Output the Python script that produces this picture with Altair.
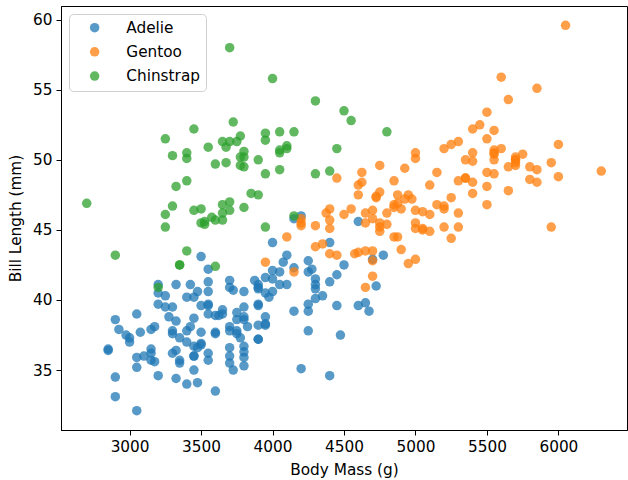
import altair as alt
import pandas as pd

species_order = ["Adelie", "Gentoo", "Chinstrap"]
species_colors = ["#1f77b4", "#ff7f0e", "#2ca02c"]
x_ticks = [3000, 3500, 4000, 4500, 5000, 5500, 6000]
y_ticks = [35, 40, 45, 50, 55, 60]

adelie_bill = [39.1, 39.5, 40.3, 36.7, 39.3, 38.9, 39.2, 34.1, 42.0, 37.8, 37.8, 41.1, 38.6, 34.6, 36.6, 38.7, 42.5, 34.4, 46.0,
               37.8, 37.7, 35.9, 38.2, 38.8, 35.3, 40.6, 40.5, 37.9, 40.5,
               39.5, 37.2, 39.5, 40.9, 36.4, 39.2, 38.8, 42.2, 37.6, 39.8, 36.5, 40.8, 36.0, 44.1, 37.0, 39.6, 41.1, 37.5, 36.0, 42.3,
               39.6, 40.1, 35.0, 42.0, 34.5, 41.4, 39.0, 40.6, 36.5, 37.6, 35.7, 41.3, 37.6, 41.1, 36.4, 41.6, 35.5, 41.1,
               35.9, 41.8, 33.5, 39.7, 39.6, 45.8, 35.5, 42.8, 40.9, 37.2, 36.2, 42.1, 34.6, 42.9, 36.7, 35.1,
               37.3, 41.3, 36.3, 36.9, 38.3, 38.9, 35.7, 41.1, 34.0, 39.6, 36.2, 40.8, 38.1, 40.3, 33.1, 43.2,
               35.0, 41.0, 37.7, 37.8, 37.9, 39.7, 38.6, 38.2, 38.1, 43.2, 38.1, 45.6, 39.7, 42.2, 39.6, 42.7,
               38.6, 37.3, 35.7, 41.1, 36.2, 37.7, 40.2, 41.4, 35.2, 40.6, 38.8, 41.5, 39.0, 44.1, 38.5, 43.1,
               36.8, 37.5, 38.1, 41.1, 35.6, 40.2, 37.0, 39.7, 40.2, 40.6, 32.1, 40.7, 37.3, 39.0, 39.2, 36.6, 36.0, 37.8, 36.0, 41.5]
adelie_mass = [3750, 3800, 3250, 3450, 3650, 3625, 4675, 3475, 4250, 3300, 3700, 3200, 3800, 4400, 3700, 3450, 4500, 3325, 4200,
               3400, 3600, 3800, 3950, 3800, 3800, 3550, 3200, 3150, 3950,
               3250, 3900, 3300, 3900, 3325, 4150, 3950, 3550, 3300, 4650, 3150, 3900, 3100, 4400, 3000, 4600, 3425, 2975, 3450, 4150,
               3500, 4300, 3450, 4050, 2900, 3700, 3550, 3800, 2850, 3750, 3150, 4400, 3600, 4050, 2850, 3950, 3350, 4100,
               3050, 4450, 3600, 3900, 3550, 4150, 3700, 4250, 3700, 3900, 3550, 4000, 3200, 4700, 3800, 4200,
               3350, 3550, 3800, 3500, 3950, 3600, 3550, 4300, 3400, 4450, 3300, 4300, 3700, 4350, 2900, 4100,
               3725, 4725, 3075, 4250, 2925, 3550, 3750, 3900, 3175, 4775, 3825, 4600, 3200, 4275, 3900, 4075,
               2900, 3775, 3350, 3325, 3150, 3500, 3450, 3875, 3050, 4000, 3275, 4300, 3050, 4000, 3325, 3500,
               3500, 4475, 3425, 3900, 3175, 3975, 3400, 4250, 3400, 3475, 3050, 3725, 3000, 3650, 4250, 3475, 3450, 3750, 3700, 4000]

gentoo_bill = [46.1, 50.0, 48.7, 50.0, 47.6, 46.5, 45.4, 46.7, 43.3, 46.8,
               40.9, 49.0, 45.5, 48.4, 45.8, 49.3, 42.0, 49.2, 46.2, 48.7,
               50.2, 45.1, 46.5, 46.3, 42.9, 46.1, 44.5, 47.8, 48.2, 50.0,
               47.3, 42.8, 45.1, 59.6, 49.1, 48.4, 42.6, 44.4, 44.0, 48.7,
               42.7, 49.6, 45.3, 49.6, 50.5, 43.6, 45.5, 50.5, 44.9, 45.2,
               46.6, 48.5, 45.1, 50.1, 46.5, 45.0, 43.8, 45.5, 43.2, 50.4,
               45.3, 46.2, 45.7, 54.3, 45.8, 49.8, 46.2, 49.5, 43.5, 50.7,
               47.7, 46.4, 48.2, 46.5, 46.4, 48.6, 47.5, 51.1, 45.2, 45.2,
               49.1, 52.5, 47.4, 50.0, 44.9, 50.8, 43.4, 51.3, 47.5, 52.1,
               47.5, 52.2, 45.5, 49.5, 44.5, 50.8, 49.4, 46.9, 48.4, 51.1,
               48.5, 55.9, 47.2, 49.1, 47.3, 46.8, 41.7, 53.4, 43.3, 48.1,
               50.5, 49.8, 43.5, 51.5, 46.2, 55.1, 44.5, 48.8, 47.2, 46.8,
               50.4, 45.2, 49.9]
gentoo_mass = [4500, 5700, 4450, 5700, 5400, 4550, 4800, 5200, 4400, 5150,
               4650, 5550, 4650, 5850, 4200, 5850, 4150, 6300, 4800, 5350,
               5700, 5000, 4400, 5050, 5000, 5100, 4100, 5650, 4600, 5550,
               5250, 4700, 5050, 6050, 5150, 5400, 4950, 5250, 4350, 5350,
               3950, 5700, 4300, 4750, 5550, 4900, 4200, 5400, 5100, 5300,
               4850, 5300, 4400, 5000, 4900, 5050, 4300, 5000, 4450, 5550,
               4200, 5300, 4400, 5650, 4700, 5700, 4650, 5800, 4700, 5550,
               4750, 5000, 5100, 5200, 4700, 5800, 4600, 6000, 4750, 5950,
               4625, 5450, 4725, 5350, 4750, 5600, 4600, 5300, 4875, 5550,
               4950, 5400, 4750, 5650, 4850, 5200, 4925, 4875, 4625, 5250,
               4850, 5600, 4975, 5500, 4725, 5500, 4700, 5500, 4575, 5500,
               5000, 5950, 4650, 5500, 4375, 5850, 4875, 6000, 4925, 4850,
               5750, 5200, 5400]

chinstrap_bill = [46.5, 50.0, 51.3, 45.4, 52.7, 45.2, 46.1, 51.3, 46.0, 51.3,
                  46.6, 51.7, 47.0, 52.0, 45.9, 50.5, 50.3, 58.0, 46.4, 49.2,
                  42.4, 48.5, 43.2, 50.6, 46.7, 52.0, 50.5, 49.5, 46.4, 52.8,
                  40.9, 54.2, 42.5, 51.0, 49.7, 47.5, 47.6, 52.0, 46.9, 53.5,
                  49.0, 46.2, 50.9, 45.5, 50.9, 50.8, 50.1, 49.0, 51.5, 49.8,
                  48.1, 51.4, 45.7, 50.7, 42.5, 52.2, 45.2, 49.3, 50.2, 45.6,
                  51.9, 46.8, 45.7, 55.8, 43.5, 49.6, 50.8, 50.2]
chinstrap_mass = [3500, 3900, 3650, 3525, 3725, 3950, 3250, 3750, 4150, 3700,
                  3800, 3775, 3700, 4050, 3575, 4050, 3300, 3700, 3450, 4400,
                  3600, 3400, 2900, 3800, 3300, 4150, 3400, 3800, 3700, 4550,
                  3200, 4300, 3350, 4100, 3600, 3900, 3850, 4800, 2700, 4500,
                  3950, 3650, 3550, 3500, 3675, 4450, 3400, 4300, 3250, 3675,
                  3325, 3950, 3600, 4050, 3350, 3450, 3250, 4050, 3800, 3525,
                  3950, 3650, 3650, 4000, 3400, 3775, 4100, 3775]

frames = []
for sp, mass, bill in [("Adelie", adelie_mass, adelie_bill),
                       ("Gentoo", gentoo_mass, gentoo_bill),
                       ("Chinstrap", chinstrap_mass, chinstrap_bill)]:
    frames.append(pd.DataFrame({"species": sp, "mass": mass, "bill": bill}))
df = pd.concat(frames, ignore_index=True)
df["draw"] = range(len(df))

FONT = "DejaVu Sans"
FS = 15.3

chart = alt.Chart(df).mark_circle(size=90, opacity=0.75, strokeWidth=0).encode(
    x=alt.X("mass:Q",
            scale=alt.Scale(domain=[2520, 6480], nice=False, zero=False),
            axis=alt.Axis(values=x_ticks, title="Body Mass (g)", grid=False, format="d",
                          titlePadding=8)),
    y=alt.Y("bill:Q",
            scale=alt.Scale(domain=[30.725, 60.975], nice=False, zero=False),
            axis=alt.Axis(values=y_ticks, title="Bill Length (mm)", grid=False, format="d",
                          titlePadding=9)),
    color=alt.Color("species:N",
                    scale=alt.Scale(domain=species_order, range=species_colors),
                    legend=alt.Legend(title=None, orient="none", legendX=8, legendY=8,
                                      fillColor="white", strokeColor="#d0d0d0", cornerRadius=4,
                                      padding=6, symbolType="circle", symbolSize=90,
                                      symbolOpacity=0.75, symbolStrokeWidth=0,
                                      symbolOffset=12, labelOffset=24, labelFontSize=FS,
                                      labelFont=FONT, labelColor="black", rowPadding=8.2)),
    order=alt.Order("draw:Q"),
).properties(
    width=566, height=424,
    autosize="none",
    padding={"left": 61, "top": 6, "right": 1, "bottom": 50},
).configure_view(
    stroke="black", strokeWidth=1,
).configure_axis(
    domainColor="black", domainWidth=1, tickColor="black", tickSize=5, tickWidth=1,
    labelFont=FONT, labelFontSize=FS, labelColor="black", labelPadding=4,
    titleFont=FONT, titleFontSize=FS, titleFontWeight="normal", titleColor="black",
)

chart.save("out.html", embed_options={"renderer": "svg", "actions": False})
